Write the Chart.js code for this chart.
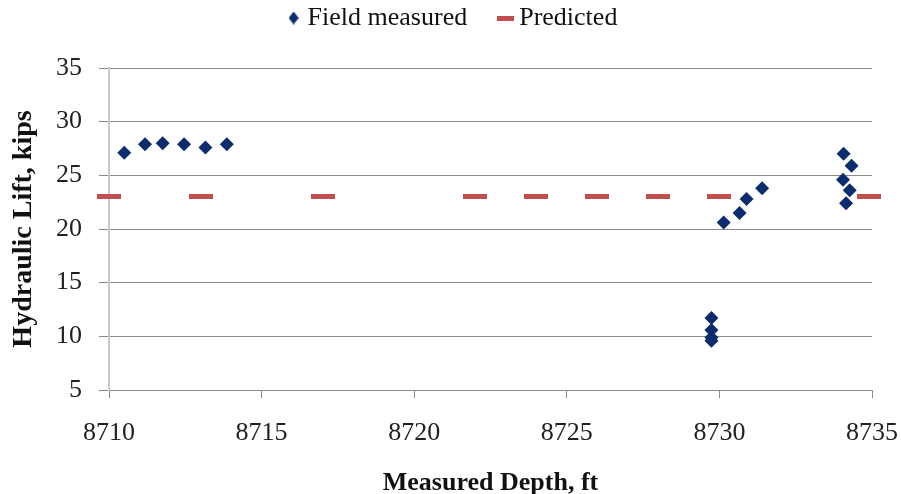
<!DOCTYPE html>
<html>
<head>
<meta charset="utf-8">
<script src="https://cdn.jsdelivr.net/npm/chart.js@4.4.1/dist/chart.umd.min.js"></script>
<style>
  html, body { margin: 0; padding: 0; background: #ffffff; }
  #wrap { width: 901px; height: 494px; }
</style>
</head>
<body>
<div id="wrap"><canvas id="chart" width="901" height="494"></canvas></div>
<script>
// Field measurements: measured depth (ft) and hydraulic lift (kips)
const fieldDepth = [8710.5, 8711.18, 8711.76, 8712.46, 8713.16, 8713.86,
                    8729.74, 8729.74, 8729.74, 8729.74,
                    8730.14, 8730.66, 8730.89, 8731.4,
                    8734.07, 8734.33, 8734.05, 8734.27, 8734.15];
const fieldLift  = [27.1, 27.9, 28.0, 27.9, 27.6, 27.9,
                    11.7, 10.6, 9.9, 9.6,
                    20.6, 21.5, 22.8, 23.8,
                    27.0, 25.9, 24.6, 23.6, 22.4];

// Model prediction
const predDepth = [8710, 8713, 8717, 8722, 8724, 8726, 8728, 8730, 8734.9];
const predLift  = [23, 23, 23, 23, 23, 23, 23, 23, 23];

// Axis ticks
const xTicks = [8710, 8715, 8720, 8725, 8730, 8735];
const yTicks = [5, 10, 15, 20, 25, 30, 35];

const NAVY = '#0d2c6b';
const RED = '#c0504d';

function dashMarker(w, h, color) {
  const c = document.createElement('canvas');
  c.width = w; c.height = h;
  const g = c.getContext('2d');
  g.fillStyle = color;
  g.fillRect(0, 0, w, h);
  return c;
}
function diamondMarker(w, h, color) {
  const c = document.createElement('canvas');
  c.width = w; c.height = h;
  const g = c.getContext('2d');
  g.fillStyle = color;
  g.beginPath();
  g.moveTo(w / 2, 0); g.lineTo(w, h / 2); g.lineTo(w / 2, h); g.lineTo(0, h / 2);
  g.closePath(); g.fill();
  return c;
}

const plotDash = dashMarker(24, 5, RED);
const legendDash = dashMarker(17, 5, RED);
const legendDiamond = diamondMarker(10, 13, NAVY);

Chart.defaults.font.family = "'Liberation Serif', 'Times New Roman', serif";
Chart.defaults.color = '#222';

const toPoints = (xs, ys) => xs.map((x, i) => ({ x: x, y: ys[i] }));

new Chart(document.getElementById('chart'), {
  type: 'scatter',
  data: {
    datasets: [
      {
        label: 'Field measured',
        data: toPoints(fieldDepth, fieldLift),
        pointStyle: 'rectRot',
        pointRadius: 7,
        pointHoverRadius: 7,
        backgroundColor: NAVY,
        borderColor: NAVY,
        borderWidth: 0,
        clip: false
      },
      {
        label: 'Predicted',
        data: toPoints(predDepth, predLift),
        pointStyle: plotDash,
        pointRadius: 12,
        backgroundColor: RED,
        borderColor: RED,
        clip: false
      }
    ]
  },
  options: {
    responsive: false,
    animation: false,
    devicePixelRatio: 1,
    events: [],
    layout: { padding: { top: -32, left: 9, right: 0, bottom: 0 } },
    plugins: {
      tooltip: { enabled: false },
      // empty title used as a gap between the legend and the plot area
      title: {
        display: true,
        text: '',
        weight: 500,
        font: { size: 10, lineHeight: 1 },
        padding: { top: 17, bottom: 0 }
      },
      legend: {
        position: 'top',
        align: 'center',
        labels: {
          usePointStyle: true,
          pointStyleWidth: 2,
          padding: 37,
          color: '#111',
          font: { size: 26 },
          generateLabels(chart) {
            const items = Chart.defaults.plugins.legend.labels.generateLabels(chart);
            items.forEach((it, i) => { it.pointStyle = i === 0 ? legendDiamond : legendDash; });
            return items;
          }
        }
      }
    },
    scales: {
      x: {
        type: 'linear',
        min: 8710,
        max: 8735,
        afterBuildTicks(scale) { scale.ticks = xTicks.map(v => ({ value: v })); },
        afterFit(scale) { scale.height = 104; scale.paddingLeft = 0; scale.paddingRight = 29; },
        border: { display: true, color: '#8a8a8a', width: 1 },
        grid: { drawOnChartArea: false, drawTicks: true, tickLength: 8, color: '#8a8a8a' },
        ticks: {
          padding: 20, color: '#222', font: { size: 26 }, maxRotation: 0, autoSkip: false,
          callback: v => String(v)
        },
        title: {
          display: true,
          text: 'Measured Depth, ft',
          color: '#111',
          font: { size: 26, weight: 'bold', lineHeight: 0.8 },
          padding: { top: 0, bottom: 0 }
        }
      },
      y: {
        type: 'linear',
        min: 5,
        max: 35,
        afterBuildTicks(scale) { scale.ticks = yTicks.map(v => ({ value: v })); },
        afterFit(scale) { scale.width = 100; scale.paddingTop = 0; scale.paddingBottom = 0; },
        border: { display: true, color: '#c9c9c9', width: 2 },
        grid: { drawOnChartArea: true, drawTicks: true, tickLength: 10, color: '#8a8a8a', lineWidth: 1 },
        ticks: { padding: 17, color: '#222', font: { size: 26 }, callback: v => String(v) },
        title: {
          display: true,
          text: 'Hydraulic Lift, kips',
          color: '#111',
          font: { size: 28, weight: 'bold', lineHeight: 1 },
          padding: { top: 1, bottom: 0 }
        }
      }
    }
  }
});
</script>
</body>
</html>
